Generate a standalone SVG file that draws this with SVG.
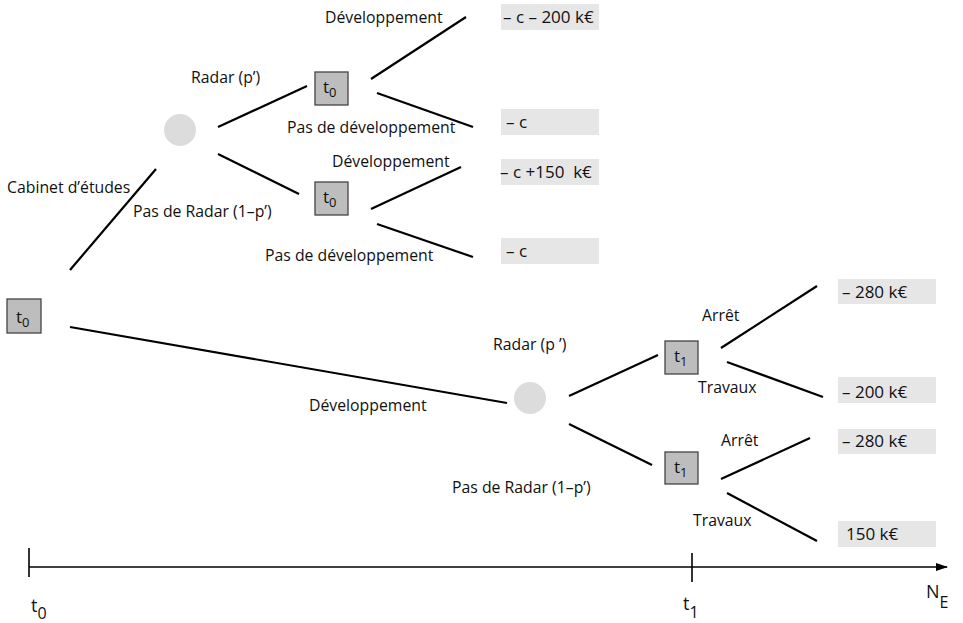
<svg xmlns="http://www.w3.org/2000/svg" width="963" height="623" viewBox="0 0 963 623">
<defs>
<style>
text{font-family:"Open Sans","Liberation Sans",sans-serif;fill:#111}
.lbl{font-size:15.8px}
.val{font-size:17px;white-space:pre}
.dec{fill:#bdbdbd;stroke:#444;stroke-width:1.3}
.chance{fill:#dcdcdc}
.vbox{fill:#e6e6e7}
.edge{stroke:#000;stroke-width:2.2;fill:none}
.axis{stroke:#000;stroke-width:1.6;fill:none}
.nt{font-size:17px}
.sub{font-size:13px}
.ax{font-size:18px}
.axs{font-size:16px}
</style>
<marker id="arr" viewBox="0 0 12 10" refX="11" refY="5" markerWidth="12" markerHeight="10" markerUnits="userSpaceOnUse" orient="auto">
<path d="M0,1 L12,5 L0,9 Z" fill="#000"/>
</marker>
</defs>
<rect width="963" height="623" fill="#fff"/>

<g id="connectors">
<line class="edge" x1="70" y1="270" x2="156" y2="169"/>
<line class="edge" x1="70" y1="327" x2="507" y2="403"/>
<line class="edge" x1="218" y1="127" x2="307" y2="86"/>
<line class="edge" x1="218" y1="154" x2="299" y2="194"/>
<line class="edge" x1="371" y1="79" x2="466" y2="17"/>
<line class="edge" x1="377" y1="93" x2="473" y2="127"/>
<line class="edge" x1="371" y1="209" x2="461" y2="167"/>
<line class="edge" x1="377" y1="224" x2="473" y2="257"/>
<line class="edge" x1="569" y1="396" x2="658" y2="355"/>
<line class="edge" x1="569" y1="424" x2="652" y2="465"/>
<line class="edge" x1="721" y1="348" x2="817" y2="286"/>
<line class="edge" x1="727" y1="362" x2="823" y2="397"/>
<line class="edge" x1="721" y1="479" x2="810" y2="438"/>
<line class="edge" x1="727" y1="493" x2="817" y2="541"/>
</g>

<g id="edge-labels" class="lbl">
<text x="325" y="23">Développement</text>
<text x="191" y="83">Radar (p’)</text>
<text x="287" y="133">Pas de développement</text>
<text x="332" y="167">Développement</text>
<text x="7" y="193">Cabinet d’études</text>
<text x="133" y="217">Pas de Radar (1–p’)</text>
<text x="265" y="261">Pas de développement</text>
<text x="309" y="411">Développement</text>
<text x="493" y="350">Radar (p ’)</text>
<text x="452" y="493">Pas de Radar (1–p’)</text>
<text x="702" y="321">Arrêt</text>
<text x="698" y="393">Travaux</text>
<text x="721" y="446">Arrêt</text>
<text x="693" y="526">Travaux</text>
</g>

<g id="n-root">
<rect class="dec" x="7" y="299" width="34" height="34"/>
<text class="nt" x="16" y="323">t<tspan class="sub" dy="4">0</tspan></text>
</g>
<g id="n-chance1">
<circle class="chance" cx="180" cy="130" r="16"/>
</g>
<g id="n-dec-radar">
<rect class="dec" x="315" y="72" width="33" height="33"/>
<text class="nt" x="323" y="93">t<tspan class="sub" dy="4">0</tspan></text>
</g>
<g id="n-dec-noradar">
<rect class="dec" x="315" y="182" width="33" height="33"/>
<text class="nt" x="323" y="203">t<tspan class="sub" dy="4">0</tspan></text>
</g>
<g id="n-chance2">
<circle class="chance" cx="530" cy="398" r="16"/>
</g>
<g id="n-dec-t1a">
<rect class="dec" x="665" y="341" width="33" height="33"/>
<text class="nt" x="674" y="362">t<tspan class="sub" dy="4">1</tspan></text>
</g>
<g id="n-dec-t1b">
<rect class="dec" x="665" y="452" width="33" height="32"/>
<text class="nt" x="674" y="473">t<tspan class="sub" dy="4">1</tspan></text>
</g>

<g id="v1"><rect class="vbox" x="501" y="4" width="98" height="26"/><text class="val" x="503" y="23">– c – 200 k€</text></g>
<g id="v2"><rect class="vbox" x="501" y="109" width="98" height="26"/><text class="val" x="506" y="128">– c</text></g>
<g id="v3"><rect class="vbox" x="501" y="159" width="98" height="26"/><text class="val" x="500" y="178">– c +150  k€</text></g>
<g id="v4"><rect class="vbox" x="501" y="238" width="98" height="26"/><text class="val" x="506" y="257">– c</text></g>
<g id="v5"><rect class="vbox" x="838" y="279" width="98" height="25"/><text class="val" x="842" y="298">– 280 k€</text></g>
<g id="v6"><rect class="vbox" x="838" y="377" width="98" height="26"/><text class="val" x="842" y="398">– 200 k€</text></g>
<g id="v7"><rect class="vbox" x="838" y="429" width="98" height="25"/><text class="val" x="842" y="447">– 280 k€</text></g>
<g id="v8"><rect class="vbox" x="838" y="521" width="98" height="26"/><text class="val" x="846" y="540">150 k€</text></g>

<g id="axis">
<line class="axis" x1="29" y1="567" x2="947" y2="567" marker-end="url(#arr)"/>
<line class="axis" x1="29" y1="548" x2="29" y2="577"/>
<line class="axis" x1="692" y1="553" x2="692" y2="582"/>
<text class="ax" x="31" y="612">t<tspan class="axs" dy="7">0</tspan></text>
<text class="ax" x="683" y="610">t<tspan class="axs" dy="8">1</tspan></text>
<text class="ax" x="926" y="598">N<tspan class="axs" dy="10">E</tspan></text>
</g>
</svg>
